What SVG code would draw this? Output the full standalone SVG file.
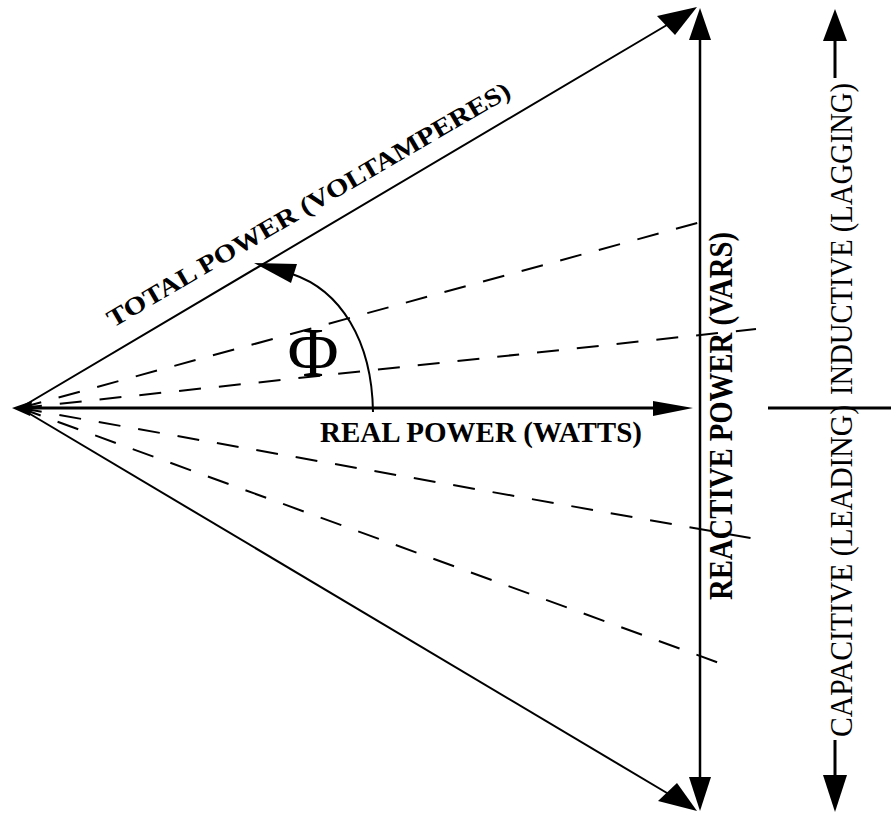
<svg xmlns="http://www.w3.org/2000/svg" width="891" height="813" viewBox="0 0 891 813">
<style>
.ln{stroke:#000;fill:none}
.d{stroke:#000;stroke-width:2;stroke-dasharray:22 18;fill:none}
.ah{fill:#000;stroke:none}
.lb{font-family:"Liberation Serif",serif;font-weight:bold;fill:#000}
.lr{font-family:"Liberation Serif",serif;fill:#000}
</style>
<rect width="891" height="813" fill="#fff"/>
<g id="connectors">
  <line class="ln" stroke-width="3" x1="20" y1="408" x2="660" y2="408"/>
  <polygon class="ah" points="653,401 693,408 653,416"/>
  <line class="ln" stroke-width="2" x1="20" y1="408" x2="672" y2="22"/>
  <polygon class="ah" points="697,7 675,35 657,16"/>
  <line class="ln" stroke-width="2" x1="20" y1="408" x2="672" y2="796"/>
  <polygon class="ah" points="697,811 658,801 677,783"/>
  <line class="ln" stroke-width="2.5" x1="700" y1="35" x2="700" y2="782"/>
  <polygon class="ah" points="700,8 711,40 689,40"/>
  <polygon class="ah" points="700,811 711,777 689,777"/>
  <line class="d" x1="20" y1="408" x2="712" y2="219"/>
  <line class="d" x1="20" y1="408" x2="756" y2="329"/>
  <line class="d" x1="20" y1="408" x2="756" y2="539"/>
  <line class="d" x1="20" y1="408" x2="733" y2="668"/>
  <polygon class="ah" points="12,408 32,401 30,416"/>
  <path class="ln" stroke-width="2" d="M373,412 C372,340 340,290 292,274"/>
  <polygon class="ah" points="254,263 297,264 291,283"/>
  <line class="ln" stroke-width="3" x1="835" y1="35" x2="835" y2="78"/>
  <polygon class="ah" points="835,9 847,41 823,41"/>
  <line class="ln" stroke-width="3" x1="835" y1="740" x2="835" y2="780"/>
  <polygon class="ah" points="835,812 847,775 823,775"/>
  <line class="ln" stroke-width="3" x1="768" y1="408" x2="891" y2="408"/>
</g>
<g id="phi"><text class="lr" x="313" y="376" font-size="70" text-anchor="middle">Φ</text></g>
<g id="total-power"><text class="lb" font-size="25" transform="translate(113,328) rotate(-30.2)" textLength="462" lengthAdjust="spacingAndGlyphs">TOTAL POWER (VOLTAMPERES)</text></g>
<g id="real-power"><text class="lb" x="320" y="442" font-size="30" textLength="322" lengthAdjust="spacingAndGlyphs">REAL POWER (WATTS)</text></g>
<g id="reactive-power"><text class="lb" font-size="33" transform="translate(732,600) rotate(-90)" textLength="368" lengthAdjust="spacingAndGlyphs">REACTIVE POWER (VARS)</text></g>
<g id="capacitive"><text class="lr" font-size="32" transform="translate(852,737) rotate(-90)" textLength="332" lengthAdjust="spacingAndGlyphs">CAPACITIVE (LEADING)</text></g>
<g id="inductive"><text class="lr" font-size="32" transform="translate(852,395) rotate(-90)" textLength="312" lengthAdjust="spacingAndGlyphs">INDUCTIVE (LAGGING)</text></g>
</svg>
